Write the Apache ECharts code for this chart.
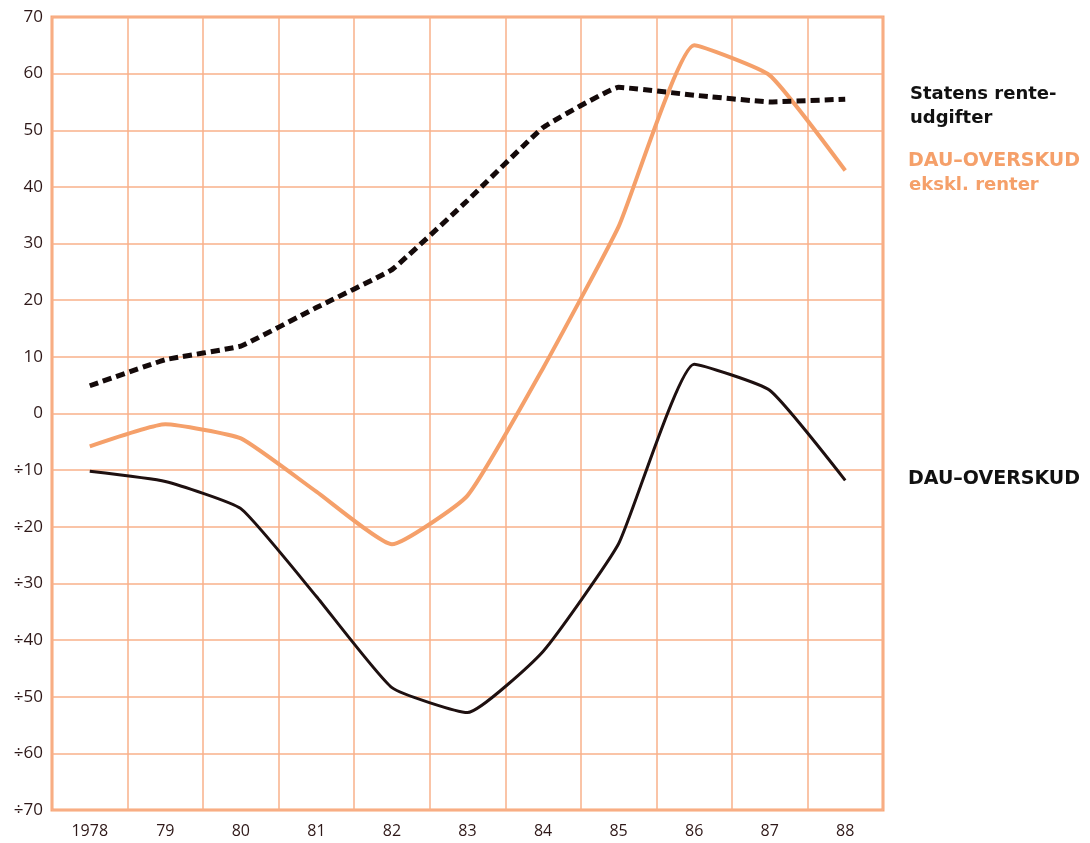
<!DOCTYPE html>
<html>
<head>
<meta charset="utf-8">
<script src="https://cdn.jsdelivr.net/npm/echarts@6/dist/echarts.min.js"></script>
<style>html,body{margin:0;padding:0;background:#fff;}#c{width:1090px;height:843px;}</style>
</head>
<body>
<div id="c"></div>
<script>
const categories = ['1978','79','80','81','82','83','84','85','86','87','88'];
const renteudgifter = [4.9, 9.5, 11.9, 18.7, 25.4, 37.6, 50.5, 57.6, 56.2, 55, 55.5];
const overskudEksklRenter = [-5.8, -1.9, -4.4, -13.8, -23.1, -14.5, 8, 33, 65, 59.7, 42.9];
const overskud = [-10.2, -12, -16.8, -32.3, -48.4, -52.8, -42, -23, 8.7, 4.1, -11.8];
const yMin = -70, yMax = 70, yStep = 10;

const gridColor = '#f8b08a';
const orange = '#f5a06a';
const dark = '#1e1010';
const tickFont = '"Open Sans", sans-serif';
const labelFont = '"DejaVu Sans", sans-serif';

const chart = echarts.init(document.getElementById('c'));
chart.setOption({
  backgroundColor: '#ffffff',
  animation: false,
  grid: {left: 52, right: 207, top: 17, bottom: 33, show: true, borderColor: '#f7a575', borderWidth: 3, backgroundColor: 'transparent'},
  xAxis: {
    type: 'category', data: categories, boundaryGap: true,
    axisLine: {show: false}, axisTick: {show: false},
    splitLine: {show: true, lineStyle: {color: gridColor, width: 1.5}},
    axisLabel: {color: '#2e1818', fontSize: 16, fontWeight: 500, fontFamily: tickFont, margin: 13}
  },
  yAxis: {
    type: 'value', min: yMin, max: yMax, interval: yStep,
    axisLine: {show: false}, axisTick: {show: false},
    splitLine: {show: true, lineStyle: {color: gridColor, width: 1.5}},
    axisLabel: {color: '#2e1818', fontSize: 17, fontWeight: 500, fontFamily: tickFont, margin: 9,
      formatter: v => v < 0 ? '÷' + (-v) : String(v)}
  },
  series: [
    {name: 'Statens renteudgifter', type: 'line', data: renteudgifter, symbol: 'none', smooth: 0.08,
      lineStyle: {color: '#140a0a', width: 5, type: [9, 5]}, z: 3},
    {name: 'DAU-OVERSKUD ekskl. renter', type: 'line', data: overskudEksklRenter, symbol: 'none', smooth: 0.14,
      lineStyle: {color: orange, width: 4}, z: 2},
    {name: 'DAU-OVERSKUD', type: 'line', data: overskud, symbol: 'none', smooth: 0.14,
      lineStyle: {color: dark, width: 3}, z: 4}
  ],
  graphic: [
    {type: 'text', left: 910, top: 82, style: {text: 'Statens rente-\nudgifter', fill: '#111', font: 'bold 18px ' + labelFont, lineHeight: 24}},
    {type: 'text', left: 908, top: 152, style: {text: 'DAU–OVERSKUD', fill: orange, font: 'bold 19px ' + labelFont}},
    {type: 'text', left: 909, top: 176, style: {text: 'ekskl. renter', fill: orange, font: 'bold 18px ' + labelFont}},
    {type: 'text', left: 908, top: 470, style: {text: 'DAU–OVERSKUD', fill: '#111', font: 'bold 19px ' + labelFont}}
  ]
});
</script>
</body>
</html>
